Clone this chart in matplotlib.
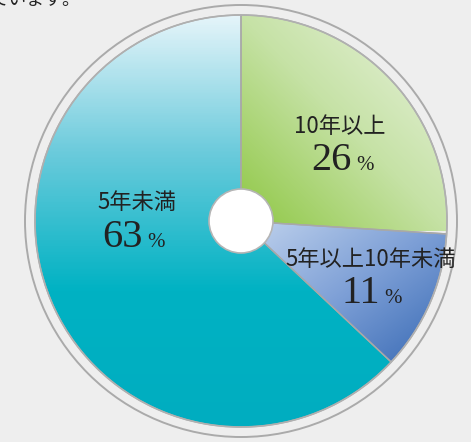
import numpy as np
import matplotlib.pyplot as plt
from matplotlib.patches import Circle
from matplotlib.colors import LinearSegmentedColormap

plt.rcParams['font.family'] = ['Noto Sans CJK JP', 'DejaVu Sans']

# data
labels = ['10年以上', '5年以上10年未満', '5年未満']
shares = [26, 11, 63]
pct_text = ['26', '11', '63']

W, H = 471, 442
cx, cy = 241, H - 221   # pie centre (y flipped to data coords)
R = 206

fig = plt.figure(figsize=(W / 100, H / 100), dpi=100)
fig.patch.set_facecolor('#eeeeee')
ax = fig.add_axes([0, 0, 1, 1])
ax.set_facecolor('#eeeeee')

wedges, _ = ax.pie(shares, startangle=90, counterclock=False, center=(cx, cy),
                   radius=R, frame=True,
                   wedgeprops=dict(facecolor='none', edgecolor='#a8a8a8', linewidth=1.0))
ax.set_xlim(0, W)
ax.set_ylim(0, H)
ax.set_aspect('auto')
ax.axis('off')

# gradient fills, one per slice
yy, xx = np.mgrid[0:1:200j, 0:1:200j]
grads = [
    # green: saturated at lower-left, pale at upper-right
    (['#8cc63f', '#c6e2a6', '#eef5e6'], (xx + (1 - yy)) / 2, (cx - 5, cx + R + 5, cy - 10, cy + R + 5)),
    # blue: light at upper-left, dark at lower-right
    (['#c6d7ef', '#7d9fd6', '#2f63b0'], (xx + yy) / 2, (cx - 5, cx + R + 5, cy - R * 0.75, cy + 5)),
    # teal: light at top, strong at bottom
    (['#e9f6fb', '#6ccbdc', '#00b2c3', '#00adc0'], yy, (cx - R - 5, cx + R, cy - R - 5, cy + R + 5)),
]
for w, (cols, field, ext) in zip(wedges, grads):
    cmap = LinearSegmentedColormap.from_list('g', cols)
    im = ax.imshow(field, cmap=cmap, extent=ext, origin='upper', aspect='auto', zorder=0)
    im.set_clip_path(w)
    w.set_zorder(1)

# outer ring and centre hole
ax.add_patch(Circle((cx, cy), R + 10, facecolor='none', edgecolor='#aaaaaa', linewidth=1.4, zorder=2))
ax.add_patch(Circle((cx, cy), R, facecolor='none', edgecolor='#b0b0b0', linewidth=1.2, zorder=2))
ax.add_patch(Circle((cx, cy), 32, facecolor='white', edgecolor='#b5b5b5', linewidth=1.2, zorder=3))

# labels (pixel positions from the reference)
label_pos = [(340, 133), (371, 266), (137, 209)]
num_pos = [(352, 170), (380, 303), (143, 247)]
for lab, (lx, ly), num, (nx, ny) in zip(labels, label_pos, pct_text, num_pos):
    ax.text(lx, H - ly, lab, ha='center', va='baseline', fontsize=16, color='#222222', zorder=4)
    ax.text(nx, H - ny, num, ha='right', va='baseline', fontsize=29,
            family='Liberation Serif', color='#222222', zorder=4)
    ax.text(nx + 4, H - ny, '%', ha='left', va='baseline', fontsize=15,
            family='Liberation Serif', color='#222222', zorder=4)

# clipped caption line at the top
ax.text(-10, H - 5, 'ています。', ha='left', va='baseline', fontsize=13, color='#222222')

fig.savefig('out.png', dpi=100, facecolor=fig.get_facecolor())
